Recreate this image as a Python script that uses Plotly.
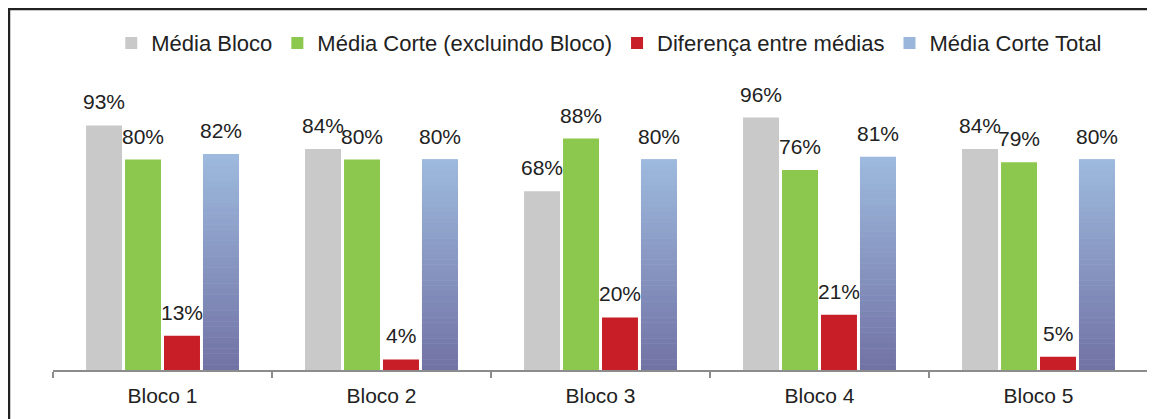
import plotly.graph_objects as go

categories = ["Bloco 1", "Bloco 2", "Bloco 3", "Bloco 4", "Bloco 5"]
media_bloco = [93, 84, 68, 96, 84]
media_corte_excl = [80, 80, 88, 76, 79]
diferenca = [13, 4, 20, 21, 5]
media_corte_total = [82, 80, 80, 81, 80]

series = [
    ("Média Bloco", media_bloco, "#C9C9C9"),
    ("Média Corte (excluindo Bloco)", media_corte_excl, "#8DC84E"),
    ("Diferença entre médias", diferenca, "#C81E28"),
    ("Média Corte Total", media_corte_total, "#9BB6DB"),
]

FONT = "Liberation Sans, Arial, sans-serif"
TXT = dict(family=FONT, size=21, color="#222222")
LEG = dict(family=FONT, size=22, color="#222222")

W, H = 1147, 411
ML, MR, MT, MB = 45, 7, 99, 49
BARGAP, GROUPGAP = 0.288, 0.077

fig = go.Figure()

for i, (name, vals, col) in enumerate(series):
    fig.add_trace(go.Bar(name=name, x=categories, y=vals, offsetgroup=str(i),
                         marker=dict(color=col, line_width=0)))

# vertical gradient overlay for "Média Corte Total" bars (styling only)
top_rgb = (157, 185, 221)
bot_rgb = (114, 115, 165)
N = 40
for k in range(N):
    t = k / (N - 1)
    col = "rgb({},{},{})".format(*[round(b + (a - b) * t) for a, b in zip(top_rgb, bot_rgb)])
    fig.add_trace(go.Bar(x=categories, y=[v / N * 1.05 for v in media_corte_total],
                         base=[v * k / N for v in media_corte_total], offsetgroup="3",
                         marker=dict(color=col, line_width=0), showlegend=False,
                         hoverinfo="skip"))

# value labels, placed above each bar of its group slot
plot_w = W - ML - MR
slot_px = plot_w / len(categories) * (1 - BARGAP) / len(series)
annotations = []
for i, (name, vals, col) in enumerate(series):
    for cat, v in zip(categories, vals):
        annotations.append(dict(x=cat, y=v, xref="x", yref="y", text=f"{v}%",
                                showarrow=False, yanchor="bottom", xanchor="center",
                                xshift=(i - (len(series) - 1) / 2) * slot_px, yshift=10,
                                font=TXT))

fig.update_layout(
    width=W, height=H,
    margin=dict(l=ML, r=MR, t=MT, b=MB),
    paper_bgcolor="white", plot_bgcolor="white",
    barmode="group", bargap=BARGAP, bargroupgap=GROUPGAP,
    font=TXT,
    showlegend=True,
    legend=dict(orientation="h", x=0.508, xanchor="center", y=1.243, yanchor="middle",
                font=LEG, itemwidth=30, bgcolor="rgba(0,0,0,0)"),
    xaxis=dict(showline=True, linecolor="#8C8C8C", linewidth=1.5, ticks="outside",
               tickson="boundaries", ticklen=6, tickcolor="#8C8C8C", tickwidth=1.5,
               tickfont=TXT, ticklabelstandoff=6, showgrid=False, fixedrange=True),
    yaxis=dict(range=[0, 100], visible=False, showgrid=False, fixedrange=True),
    annotations=annotations,
    shapes=[dict(type="rect", xref="paper", yref="paper", x0=-0.0402, x1=1.0046,
                 y0=-0.3, y1=1.3726, line=dict(color="#222222", width=2.5),
                 fillcolor="rgba(0,0,0,0)", layer="above")],
)

fig.write_html("out.html")
